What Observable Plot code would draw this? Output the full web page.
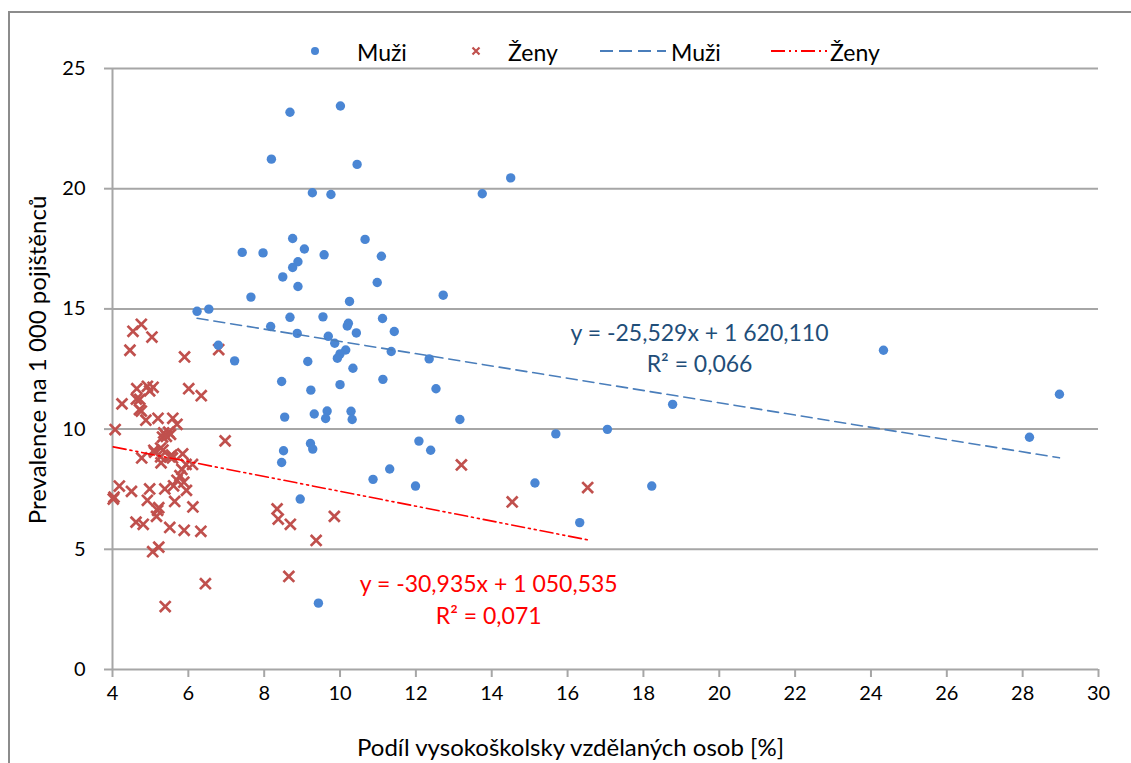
<!DOCTYPE html>
<html>
<head>
<meta charset="utf-8">
<script src="https://cdn.jsdelivr.net/npm/d3@7"></script>
<script src="https://cdn.jsdelivr.net/npm/@observablehq/plot@0.6"></script>
<style>
  html, body { margin: 0; padding: 0; background: #fff; overflow: hidden; }
  body { width: 1131px; height: 763px; position: relative; font-family: Lato, "Open Sans", sans-serif; }
  #frame { position: absolute; left: 8px; top: 11px; width: 2000px; height: 2000px;
           border-left: 2px solid #8c8c8c; border-top: 2px solid #8c8c8c; box-sizing: border-box; }
  #chart { position: absolute; left: 0; top: 0; }
  #legend { position: absolute; top: 37px; left: 0; width: 1131px; height: 30px; font-size: 23px; color: #000; }
  #legend .item { position: absolute; top: 0; height: 30px; line-height: 30px; }
  #legend svg { position: absolute; top: 0; }
</style>
</head>
<body>
<div id="frame"></div>
<div id="chart"></div>
<div id="legend"></div>
<script>
// ---- data ----
const xTicks = [4, 6, 8, 10, 12, 14, 16, 18, 20, 22, 24, 26, 28, 30];
const yTicks = [0, 5, 10, 15, 20, 25];
const xTitle = "Podíl vysokoškolsky vzdělaných osob [%]";
const yTitle = "Prevalence na 1 000 pojištěnců";

// Muži (men)
const menX = [8.68, 10.01, 8.19, 10.45, 9.27, 9.76, 13.75, 14.50, 8.75, 7.42, 7.97, 9.06, 9.58, 10.66, 11.09,
  8.89, 8.75, 8.49, 10.98, 8.89, 7.65, 10.25, 12.72, 6.23, 6.54, 8.68, 9.55, 10.22, 10.19, 11.12,
  8.17, 8.87, 10.43, 11.43, 9.69, 6.79, 7.22, 9.86, 10.15, 10.00, 9.93, 11.35, 12.35, 9.15, 10.34,
  8.46, 9.23, 10.00, 11.13, 12.53, 8.54, 9.32, 9.66, 9.62, 10.29, 10.32, 13.16, 15.69, 17.05, 18.77,
  24.33, 28.97, 28.18, 9.22, 9.28, 8.51, 12.08, 12.39, 8.46, 11.31, 10.87, 11.99, 15.14, 18.22, 8.95,
  16.32, 9.43];
const menY = [23.18, 23.44, 21.23, 21.01, 19.83, 19.76, 19.79, 20.45, 17.93, 17.35, 17.33, 17.49, 17.25, 17.89, 17.19,
  16.96, 16.72, 16.33, 16.10, 15.93, 15.49, 15.31, 15.57, 14.90, 14.99, 14.65, 14.67, 14.40, 14.29, 14.60,
  14.27, 13.98, 14.00, 14.06, 13.86, 13.49, 12.84, 13.57, 13.29, 13.13, 12.95, 13.23, 12.92, 12.81, 12.53,
  11.98, 11.62, 11.85, 12.07, 11.68, 10.50, 10.63, 10.75, 10.44, 10.74, 10.40, 10.40, 9.80, 9.99, 11.03,
  13.28, 11.45, 9.66, 9.40, 9.17, 9.10, 9.50, 9.12, 8.61, 8.34, 7.91, 7.63, 7.76, 7.63, 7.09,
  6.11, 2.76];

// Ženy (women)
const womenX = [4.76, 4.54, 5.04, 4.46, 5.90, 6.80, 4.64, 4.92, 5.07, 4.98, 6.01, 6.34, 4.25, 4.63, 4.72,
  4.71, 4.76, 4.88, 5.20, 5.59, 5.70, 4.07, 5.35, 5.48, 5.53, 5.32, 5.42, 6.97, 5.09, 5.27,
  5.33, 4.77, 5.11, 5.27, 5.28, 5.56, 5.85, 5.51, 5.58, 5.94, 6.11, 5.83, 5.78, 5.70, 5.88,
  5.95, 5.61, 4.18, 4.50, 4.98, 5.38, 4.04, 4.02, 4.92, 5.64, 6.12, 5.22, 5.19, 5.16, 4.62,
  4.81, 5.51, 5.89, 6.33, 5.06, 5.22, 6.45, 5.39, 8.34, 8.37, 8.69, 9.85, 9.37, 8.65, 13.20,
  14.54, 16.53];
const womenY = [14.36, 14.07, 13.83, 13.28, 13.00, 13.31, 11.68, 11.78, 11.74, 11.59, 11.68, 11.39, 11.05, 11.25, 11.24,
  10.81, 10.75, 10.37, 10.45, 10.45, 10.20, 9.98, 9.84, 9.87, 9.78, 9.67, 9.70, 9.51, 9.12, 9.21,
  9.13, 8.80, 9.04, 8.85, 8.60, 8.92, 8.97, 8.85, 8.80, 8.53, 8.53, 8.32, 8.06, 7.87, 7.79,
  7.45, 7.64, 7.63, 7.41, 7.51, 7.51, 7.17, 7.09, 7.04, 6.99, 6.76, 6.73, 6.62, 6.37, 6.13,
  6.04, 5.91, 5.79, 5.75, 4.90, 5.09, 3.57, 2.62, 6.68, 6.26, 6.04, 6.37, 5.37, 3.87, 8.51,
  6.97, 7.57];

// trend equations as printed on the chart (x scaled by 100 in the printed form)
const trendNames = ["Muži", "Ženy"];
const trendSlope = [-25.529, -30.935];
const trendIntercept = [1620.110, 1050.535];
const trendEquation = ["y = -25,529x + 1 620,110", "y = -30,935x + 1 050,535"];
const trendR2 = ["0,066", "0,071"];
const trendLabelX = [19.48, 13.92];
const trendLabelY = [14.03, 3.58];

// ---- colours / styles ----
const menColor = "#4a86d4";
const womenColor = "#c0504d";
const menLineColor = "#4a7ebb";
const womenLineColor = "#ff0000";
const menTextColor = "#1f4e79";
const womenTextColor = "#ff0000";
const gridColor = "#a6a6a6";

const men = menX.map((x, i) => ({x, y: menY[i]}));
const women = womenX.map((x, i) => ({x, y: womenY[i]}));

function trendLine(k, xs) {
  const [x0, x1] = d3.extent(xs);
  const f = x => (trendIntercept[k] + trendSlope[k] * x) / 100;
  return [{x: x0, y: f(x0)}, {x: x1, y: f(x1)}];
}
const menTrend = trendLine(0, menX);
const womenTrend = trendLine(1, womenX);

const labels = [
  {x: trendLabelX[0], y: trendLabelY[0], text: `${trendEquation[0]}\nR² = ${trendR2[0]}`, color: menTextColor},
  {x: trendLabelX[1], y: trendLabelY[1], text: `${trendEquation[1]}\nR² = ${trendR2[1]}`, color: womenTextColor}
];

const chart = Plot.plot({
  width: 1131,
  height: 763,
  marginLeft: 112,
  marginRight: 33,
  marginTop: 68,
  marginBottom: 94,
  style: {fontFamily: "Lato, 'Open Sans', sans-serif", fontSize: "20px", color: "#000", background: "transparent", overflow: "visible"},
  x: {domain: [4, 30]},
  y: {domain: [0, 25]},
  marks: [
    Plot.gridY(yTicks.filter(d => d > 0), {stroke: gridColor, strokeOpacity: 1, strokeWidth: 2}),
    Plot.axisY(yTicks, {tickSize: 8, tickPadding: 19, stroke: gridColor, strokeWidth: 2, fill: "#000", label: null}),
    Plot.axisX(xTicks, {tickSize: 8, tickPadding: 8, stroke: gridColor, strokeWidth: 2, fill: "#000", label: null}),
    Plot.text([xTitle], {frameAnchor: "bottom", text: d => d, fontSize: 24, textAnchor: "middle", dx: -35, dy: 79, lineAnchor: "middle"}),
    Plot.text([yTitle], {frameAnchor: "left", text: d => d, fontSize: 24, textAnchor: "middle", rotate: -90, dx: -74, dy: -9, lineAnchor: "middle"}),
    Plot.ruleX([4], {stroke: gridColor, strokeWidth: 2}),
    Plot.ruleY([0], {stroke: gridColor, strokeWidth: 2}),
    Plot.dot(women, {x: "x", y: "y", symbol: "times", r: 5, stroke: womenColor, strokeWidth: 2.7}),
    Plot.dot(men, {x: "x", y: "y", r: 4.7, fill: menColor, stroke: "none"}),
    Plot.line(menTrend, {x: "x", y: "y", stroke: menLineColor, strokeWidth: 1.6, strokeDasharray: "11,6"}),
    Plot.line(womenTrend, {x: "x", y: "y", stroke: womenLineColor, strokeWidth: 1.6, strokeDasharray: "13,4,2,4,2,4"}),
    Plot.text(labels, {x: "x", y: "y", text: "text", fill: "color", fontSize: 23, lineHeight: 1.38, textAnchor: "middle", lineAnchor: "top", dy: -14})
  ]
});
document.getElementById("chart").appendChild(chart);

// ---- legend ----
const legendItems = [
  {label: "Muži", kind: "dot", color: menColor},
  {label: "Ženy", kind: "x", color: womenColor},
  {label: "Muži", kind: "dash", color: menLineColor},
  {label: "Ženy", kind: "dashdot", color: womenLineColor}
];
const legendSymbolLeft = [305, 466, 600, 771];
const legendSymbolWidth = [20, 20, 66, 56];
const legendTextLeft = [357, 508, 671, 830];
const legend = d3.select("#legend");
legendItems.forEach((it, i) => {
  const w = legendSymbolWidth[i];
  const s = legend.append("svg").attr("width", w).attr("height", 30).style("left", legendSymbolLeft[i] + "px");
  if (it.kind === "dot") s.append("circle").attr("cx", w / 2).attr("cy", 14).attr("r", 4).attr("fill", it.color);
  if (it.kind === "x") s.append("path").attr("d", `M${w/2-3.5},10.5L${w/2+3.5},17.5M${w/2+3.5},10.5L${w/2-3.5},17.5`).attr("stroke", it.color).attr("stroke-width", 2.2);
  if (it.kind === "dash") s.append("line").attr("x1", 0).attr("x2", w).attr("y1", 14).attr("y2", 14).attr("stroke", it.color).attr("stroke-width", 2).attr("stroke-dasharray", "13,6");
  if (it.kind === "dashdot") s.append("line").attr("x1", 0).attr("x2", w).attr("y1", 14).attr("y2", 14).attr("stroke", it.color).attr("stroke-width", 2).attr("stroke-dasharray", "14,4,2,4,2,4");
  legend.append("div").attr("class", "item").style("left", legendTextLeft[i] + "px").text(it.label);
});
</script>
</body>
</html>
